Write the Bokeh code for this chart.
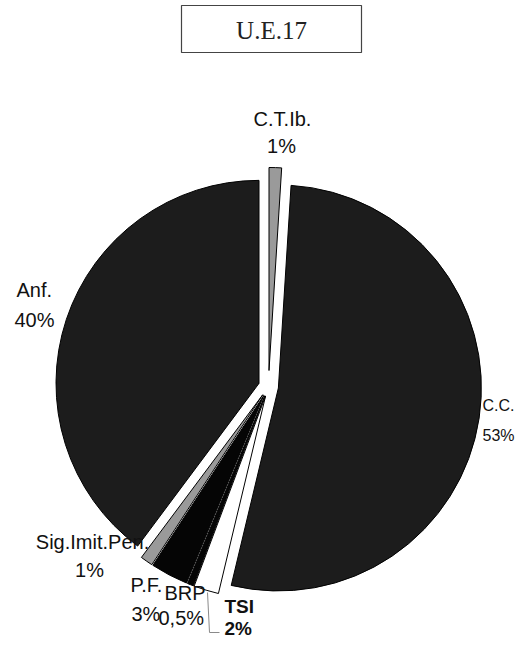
import numpy as np
from bokeh.plotting import figure
from bokeh.models import Range1d
from bokeh.core.properties import value
from bokeh.embed import file_html
from bokeh.resources import INLINE

# ---- data (clockwise from 12 o'clock) ----
categories = ["C.T.Ib.", "C.C.", "TSI", "BRP", "P.F.", "Sig.Imit.Pen.", "Anf."]
values = [1, 53, 2, 0.5, 3, 1, 40]
pct_labels = ["1%", "53%", "2%", "0,5%", "3%", "1%", "40%"]
title_text = "U.E.17"

# ---- styles ----
colors = ["#9a9a9a", "#1c1c1c", "#ffffff", "#050505", "#050505", "#9a9a9a", "#1c1c1c"]
explode = [16, 10, 10, 10, 10, 10, 10]
bold = [False, False, True, False, False, False, False]
font_px = [20, 16, 19, 20, 20, 20, 20]

W, H = 515, 639
def sx(px):
    return px
def sy(py):
    return H - py

# label anchors in picture pixels: (name x, name y, pct x, pct y, align)
label_pos = [
    (282, 118, 281, 145, "center"),
    (482, 405, 482, 435, "left"),
    (224, 606, 224, 628, "left"),
    (164, 592, 158, 617, "left"),
    (130, 584, 131, 613, "left"),
    (92, 541, 89, 569, "center"),
    (16, 289, 14, 319, "left"),
]

p = figure(width=W, height=H, x_range=Range1d(0, W), y_range=Range1d(0, H),
           output_backend="svg", toolbar_location=None, min_border=0,
           x_axis_type=None, y_axis_type=None)
p.grid.visible = False
p.outline_line_color = None
p.background_fill_color = "white"

# ---- pie ----
cx, cy = sx(268), sy(386)
R = 203
total = float(sum(values))
fr = np.array(values) / total * 2 * np.pi
a_end = np.cumsum(fr)
a_start = a_end - fr
mid = (a_start + a_end) / 2
ex = np.array(explode, dtype=float)
xs = cx + ex * np.sin(mid)
ys = cy + ex * np.cos(mid)
p.wedge(x=list(xs), y=list(ys), radius=R,
        start_angle=list(np.pi / 2 - a_end), end_angle=list(np.pi / 2 - a_start),
        direction="anticlock", fill_color=colors, line_color="black", line_width=1)

# ---- leader line for TSI ----
p.line(x=[sx(207), sx(209), sx(219)], y=[sy(592), sy(632), sy(632)],
       line_color="#8a8a8a", line_width=1)

# ---- labels ----
for i, cat in enumerate(categories):
    nx, ny, px_, py_, al = label_pos[i]
    style = "bold" if bold[i] else "normal"
    fs = f"{font_px[i]}px"
    p.text(x=[sx(nx)], y=[sy(ny)], text=[cat], text_align=al, text_baseline="middle",
           text_font=value("Liberation Sans"), text_font_size=fs,
           text_font_style=style, text_color="#111111")
    p.text(x=[sx(px_)], y=[sy(py_)], text=[pct_labels[i]], text_align=al, text_baseline="middle",
           text_font=value("Liberation Sans"), text_font_size=fs,
           text_font_style=style, text_color="#111111")

# ---- title box ----
p.quad(left=[sx(181)], right=[sx(361)], top=[sy(5)], bottom=[sy(52)],
       fill_color="white", line_color="#444444", line_width=1.2)
p.text(x=[sx(271)], y=[sy(30)], text=[title_text], text_align="center", text_baseline="middle",
       text_font=value("Liberation Serif"), text_font_size="25px", text_color="#222222")

open("out.html", "w").write(file_html(p, INLINE))
